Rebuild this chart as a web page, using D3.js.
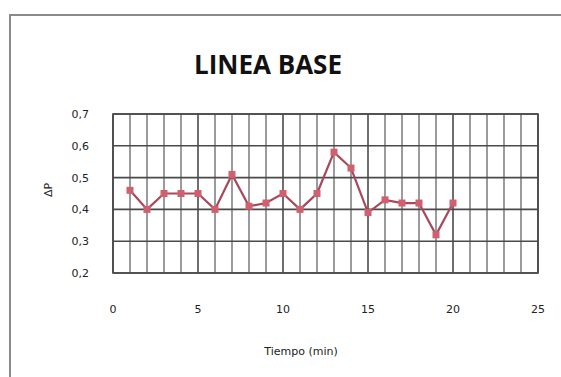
<!DOCTYPE html>
<html>
<head>
<meta charset="utf-8">
<script src="https://cdn.jsdelivr.net/npm/d3@7"></script>
<style>
  body { margin: 0; background: #fff; }
  svg { display: block; }
</style>
</head>
<body>
<div id="chart"></div>
<script>
// data
const tiempo = [1, 2, 3, 4, 5, 6, 7, 8, 9, 10, 11, 12, 13, 14, 15, 16, 17, 18, 19, 20];
const deltaP = [0.46, 0.40, 0.45, 0.45, 0.45, 0.40, 0.51, 0.41, 0.42, 0.45,
                0.40, 0.45, 0.58, 0.53, 0.39, 0.43, 0.42, 0.42, 0.32, 0.42];
const xTicks = [0, 5, 10, 15, 20, 25];
const yTicks = [0.2, 0.3, 0.4, 0.5, 0.6, 0.7];

const width = 561, height = 377;
const margin = { left: 113, right: 23, top: 114, bottom: 104 };

const svg = d3.select('#chart').append('svg')
    .attr('width', width)
    .attr('height', height);

// outer chart frame (only top and left visible)
svg.append('path')
    .attr('d', `M10,${height} L10,15 L${width},15`)
    .attr('fill', 'none')
    .attr('stroke', '#8a8a8a')
    .attr('stroke-width', 2);

const x = d3.scaleLinear().domain([0, 25]).range([margin.left, width - margin.right]);
const y = d3.scaleLinear().domain([0.2, 0.7]).range([height - margin.bottom, margin.top]);

const grid = svg.append('g');

// minor vertical gridlines
grid.selectAll('line.minor')
    .data(d3.range(1, 25).filter(d => d % 5 !== 0))
    .enter().append('line')
    .attr('x1', d => x(d)).attr('x2', d => x(d))
    .attr('y1', y(0.7)).attr('y2', y(0.2))
    .attr('stroke', '#666')
    .attr('stroke-width', 1.3);

// major vertical gridlines
grid.selectAll('line.vmajor')
    .data(xTicks)
    .enter().append('line')
    .attr('x1', d => x(d)).attr('x2', d => x(d))
    .attr('y1', y(0.7)).attr('y2', y(0.2))
    .attr('stroke', '#4a4a4a')
    .attr('stroke-width', 1.6);

// horizontal gridlines
grid.selectAll('line.h')
    .data(yTicks)
    .enter().append('line')
    .attr('x1', x(0)).attr('x2', x(25))
    .attr('y1', d => y(d)).attr('y2', d => y(d))
    .attr('stroke', '#4a4a4a')
    .attr('stroke-width', 1.6);

// plot border
svg.append('rect')
    .attr('x', x(0)).attr('y', y(0.7))
    .attr('width', x(25) - x(0))
    .attr('height', y(0.2) - y(0.7))
    .attr('fill', 'none')
    .attr('stroke', '#4a4a4a')
    .attr('stroke-width', 1.6);

// axes labels
const fmt = d3.format('.1f');
svg.append('g').selectAll('text')
    .data(yTicks)
    .enter().append('text')
    .attr('x', 89)
    .attr('y', d => y(d) + 4)
    .attr('text-anchor', 'end')
    .attr('font-family', 'DejaVu Sans, Verdana, sans-serif')
    .attr('font-size', 11)
    .attr('fill', '#222')
    .text(d => fmt(d).replace('.', ','));

svg.append('g').selectAll('text')
    .data(xTicks)
    .enter().append('text')
    .attr('x', d => x(d))
    .attr('y', 313)
    .attr('text-anchor', 'middle')
    .attr('font-family', 'DejaVu Sans, Verdana, sans-serif')
    .attr('font-size', 11)
    .attr('fill', '#222')
    .text(d => d);

svg.append('text')
    .attr('x', 301)
    .attr('y', 355)
    .attr('text-anchor', 'middle')
    .attr('font-family', 'DejaVu Sans, Verdana, sans-serif')
    .attr('font-size', 11)
    .attr('fill', '#222')
    .text('Tiempo (min)');

svg.append('text')
    .attr('transform', 'translate(52,190) rotate(-90)')
    .attr('text-anchor', 'middle')
    .attr('font-family', 'DejaVu Sans, Verdana, sans-serif')
    .attr('font-size', 11)
    .attr('fill', '#222')
    .text('ΔP');

// title
svg.append('text')
    .attr('x', 268)
    .attr('y', 74)
    .attr('text-anchor', 'middle')
    .attr('font-family', 'Open Sans, Lato, sans-serif')
    .attr('font-weight', 'bold')
    .attr('font-size', 26)
    .attr('fill', '#111')
    .text('LINEA BASE');

// series
const points = tiempo.map((t, i) => ({ t: t, v: deltaP[i] }));
const line = d3.line().x(d => x(d.t)).y(d => y(d.v));

svg.append('path')
    .datum(points)
    .attr('d', line)
    .attr('fill', 'none')
    .attr('stroke', '#a8485a')
    .attr('stroke-width', 2.2);

svg.append('g').selectAll('rect')
    .data(points)
    .enter().append('rect')
    .attr('x', d => x(d.t) - 3.5)
    .attr('y', d => y(d.v) - 3.5)
    .attr('width', 7)
    .attr('height', 7)
    .attr('fill', '#d0606e');
</script>
</body>
</html>
